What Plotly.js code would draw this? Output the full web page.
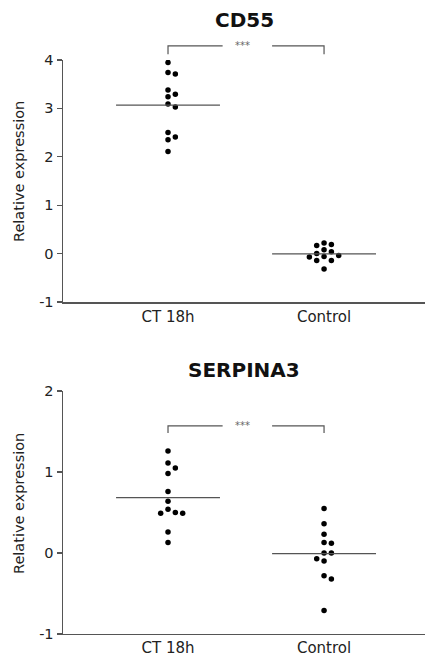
<!DOCTYPE html>
<html>
<head>
<meta charset="utf-8">
<script src="https://cdn.plot.ly/plotly-3.0.1.min.js"></script>
<style>html,body{margin:0;padding:0;background:#fff;}#chart{width:425px;height:660px;}</style>
</head>
<body>
<div id="chart"></div>
<script>
// ---- data ----
var categories = ["CT 18h", "Control"];
var cd55_ct18h = [3.95, 3.74, 3.71, 3.38, 3.29, 3.24, 3.09, 3.03, 2.50, 2.41, 2.35, 2.11];
var cd55_control = [0.22, 0.19, 0.17, 0.08, 0.04, 0.00, -0.04, -0.06, -0.07, -0.14, -0.14, -0.32];
var serpina3_ct18h = [1.26, 1.11, 1.05, 0.98, 0.76, 0.64, 0.54, 0.50, 0.49, 0.49, 0.26, 0.13];
var serpina3_control = [0.55, 0.36, 0.23, 0.13, 0.12, 0.00, 0.00, -0.07, -0.10, -0.28, -0.32, -0.71];
var cd55_ticks = [-1, 0, 1, 2, 3, 4];
var cd55_ticklabels = ["-1", "0", "1", "2", "3", "4"];
var serpina3_ticks = [-1, 0, 1, 2];
var serpina3_ticklabels = ["-1", "0", "1", "2"];
var panelTitles = ["CD55", "SERPINA3"];
var yTitle = "Relative expression";
var significance = "***";

// ---- layout helpers ----
var W = 425, H = 660, ML = 63;
var xRange = [-0.673, 1.647];
var topDomain = [0.5424, 0.9091], botDomain = [0.0394, 0.4076];
var topRange = [-1, 4], botRange = [-1, 2];
var colStep = 0.047;   // horizontal step between swarm columns (category units)
var dotGap = 6.5;      // px, vertical collision distance

function mean(a){ var s=0; for (var i=0;i<a.length;i++) s+=a[i]; return s/a.length; }

function swarm(vals, center, domain, range){
  var pxPerUnit = (domain[1]-domain[0])*H/(range[1]-range[0]);
  var idx = vals.map(function(v,i){return i;}).sort(function(a,b){return vals[b]-vals[a];});
  var placed = []; var xs = new Array(vals.length);
  var order = [0, 1, -1, 2, -2, 3, -3];
  idx.forEach(function(i){
    for (var k=0;k<order.length;k++){
      var c = order[k], ok = true;
      for (var j=0;j<placed.length;j++){
        if (placed[j].c===c && Math.abs(placed[j].v - vals[i])*pxPerUnit < dotGap){ ok=false; break; }
      }
      if (ok){ placed.push({c:c, v:vals[i]}); xs[i] = center + c*colStep; break; }
    }
  });
  return xs;
}

function px(x){ return (x - xRange[0])/(xRange[1]-xRange[0]); }
function py(v, domain, range){ return domain[0] + (v-range[0])/(range[1]-range[0])*(domain[1]-domain[0]); }

var traces = [];
var shapes = [];
var annotations = [];

function panel(ctVals, ctrlVals, xa, ya, domain, range, bracketY, bracketDrop, titleText, titleY, yTitleY){
  [ctVals, ctrlVals].forEach(function(vals, ci){
    traces.push({type:'scatter', mode:'markers', x: swarm(vals, ci, domain, range), y: vals,
      xaxis: xa, yaxis: ya, marker:{color:'#000', size:5.5}, hoverinfo:'y', showlegend:false});
    var m = mean(vals);
    traces.push({type:'scatter', mode:'lines', x:[ci-0.333, ci+0.333], y:[m, m],
      xaxis: xa, yaxis: ya, line:{color:'#555', width:1.3}, hoverinfo:'skip', showlegend:false});
  });
  var yT = py(bracketY, domain, range), yB = py(bracketY-bracketDrop, domain, range);
  var lc = {color:'#555', width:1.2};
  shapes.push({type:'path', xref:'paper', yref:'paper', line:lc,
    path:'M'+px(0)+','+yB+' L'+px(0)+','+yT+' L'+px(0.35)+','+yT});
  shapes.push({type:'path', xref:'paper', yref:'paper', line:lc,
    path:'M'+px(0.667)+','+yT+' L'+px(1)+','+yT+' L'+px(1)+','+yB});
  annotations.push({xref:'paper', yref:'paper', x:px(0.475), y:yT, text:significance, showarrow:false,
    font:{family:'DejaVu Sans', size:10, color:'#666'}, xanchor:'center', yanchor:'middle'});
  annotations.push({xref:'paper', yref:'paper', x:(244-ML)/(W-ML), y:titleY, text:'<b>'+titleText+'</b>', showarrow:false,
    font:{family:'DejaVu Sans', size:20, color:'#111'}, xanchor:'center', yanchor:'middle'});
  annotations.push({xref:'paper', yref:'paper', x:(19-ML)/(W-ML), y:yTitleY, text:yTitle, textangle:-90, showarrow:false,
    font:{family:'DejaVu Sans', size:14.5, color:'#222'}, xanchor:'center', yanchor:'middle'});
}

panel(cd55_ct18h, cd55_control, 'x', 'y', topDomain, topRange, 4.29, 0.17, panelTitles[0], 1-20/H, 1-172/H);
panel(serpina3_ct18h, serpina3_control, 'x2', 'y2', botDomain, botRange, 1.57, 0.09, panelTitles[1], 1-370/H, 1-504/H);

function xAxis(anchor){
  return {domain:[0,1], anchor:anchor, range:xRange, tickmode:'array', tickvals:[0,1], ticktext:categories,
    showline:true, linecolor:'#555', linewidth:1.5, ticks:'', showgrid:false, zeroline:false,
    tickfont:{family:'DejaVu Sans', size:15, color:'#222'}, fixedrange:true};
}
function yAxis(anchor, domain, range, tv, tt){
  return {domain:domain, anchor:anchor, range:range, tickmode:'array', tickvals:tv, ticktext:tt,
    showline:true, linecolor:'#555', linewidth:1.5,
    ticks:'outside', ticklen:5, tickwidth:1.2, tickcolor:'#555', showgrid:false, zeroline:false,
    tickfont:{family:'DejaVu Sans', size:14.5, color:'#222'}, fixedrange:true};
}

var layout = {
  width:W, height:H, margin:{l:ML, r:0, t:0, b:0}, paper_bgcolor:'#fff', plot_bgcolor:'#fff',
  showlegend:false,
  xaxis: xAxis('y'), yaxis: yAxis('x', topDomain, topRange, cd55_ticks, cd55_ticklabels),
  xaxis2: xAxis('y2'), yaxis2: yAxis('x2', botDomain, botRange, serpina3_ticks, serpina3_ticklabels),
  shapes: shapes, annotations: annotations
};

Plotly.newPlot('chart', traces, layout, {displayModeBar:false, staticPlot:true});
</script>
</body>
</html>
